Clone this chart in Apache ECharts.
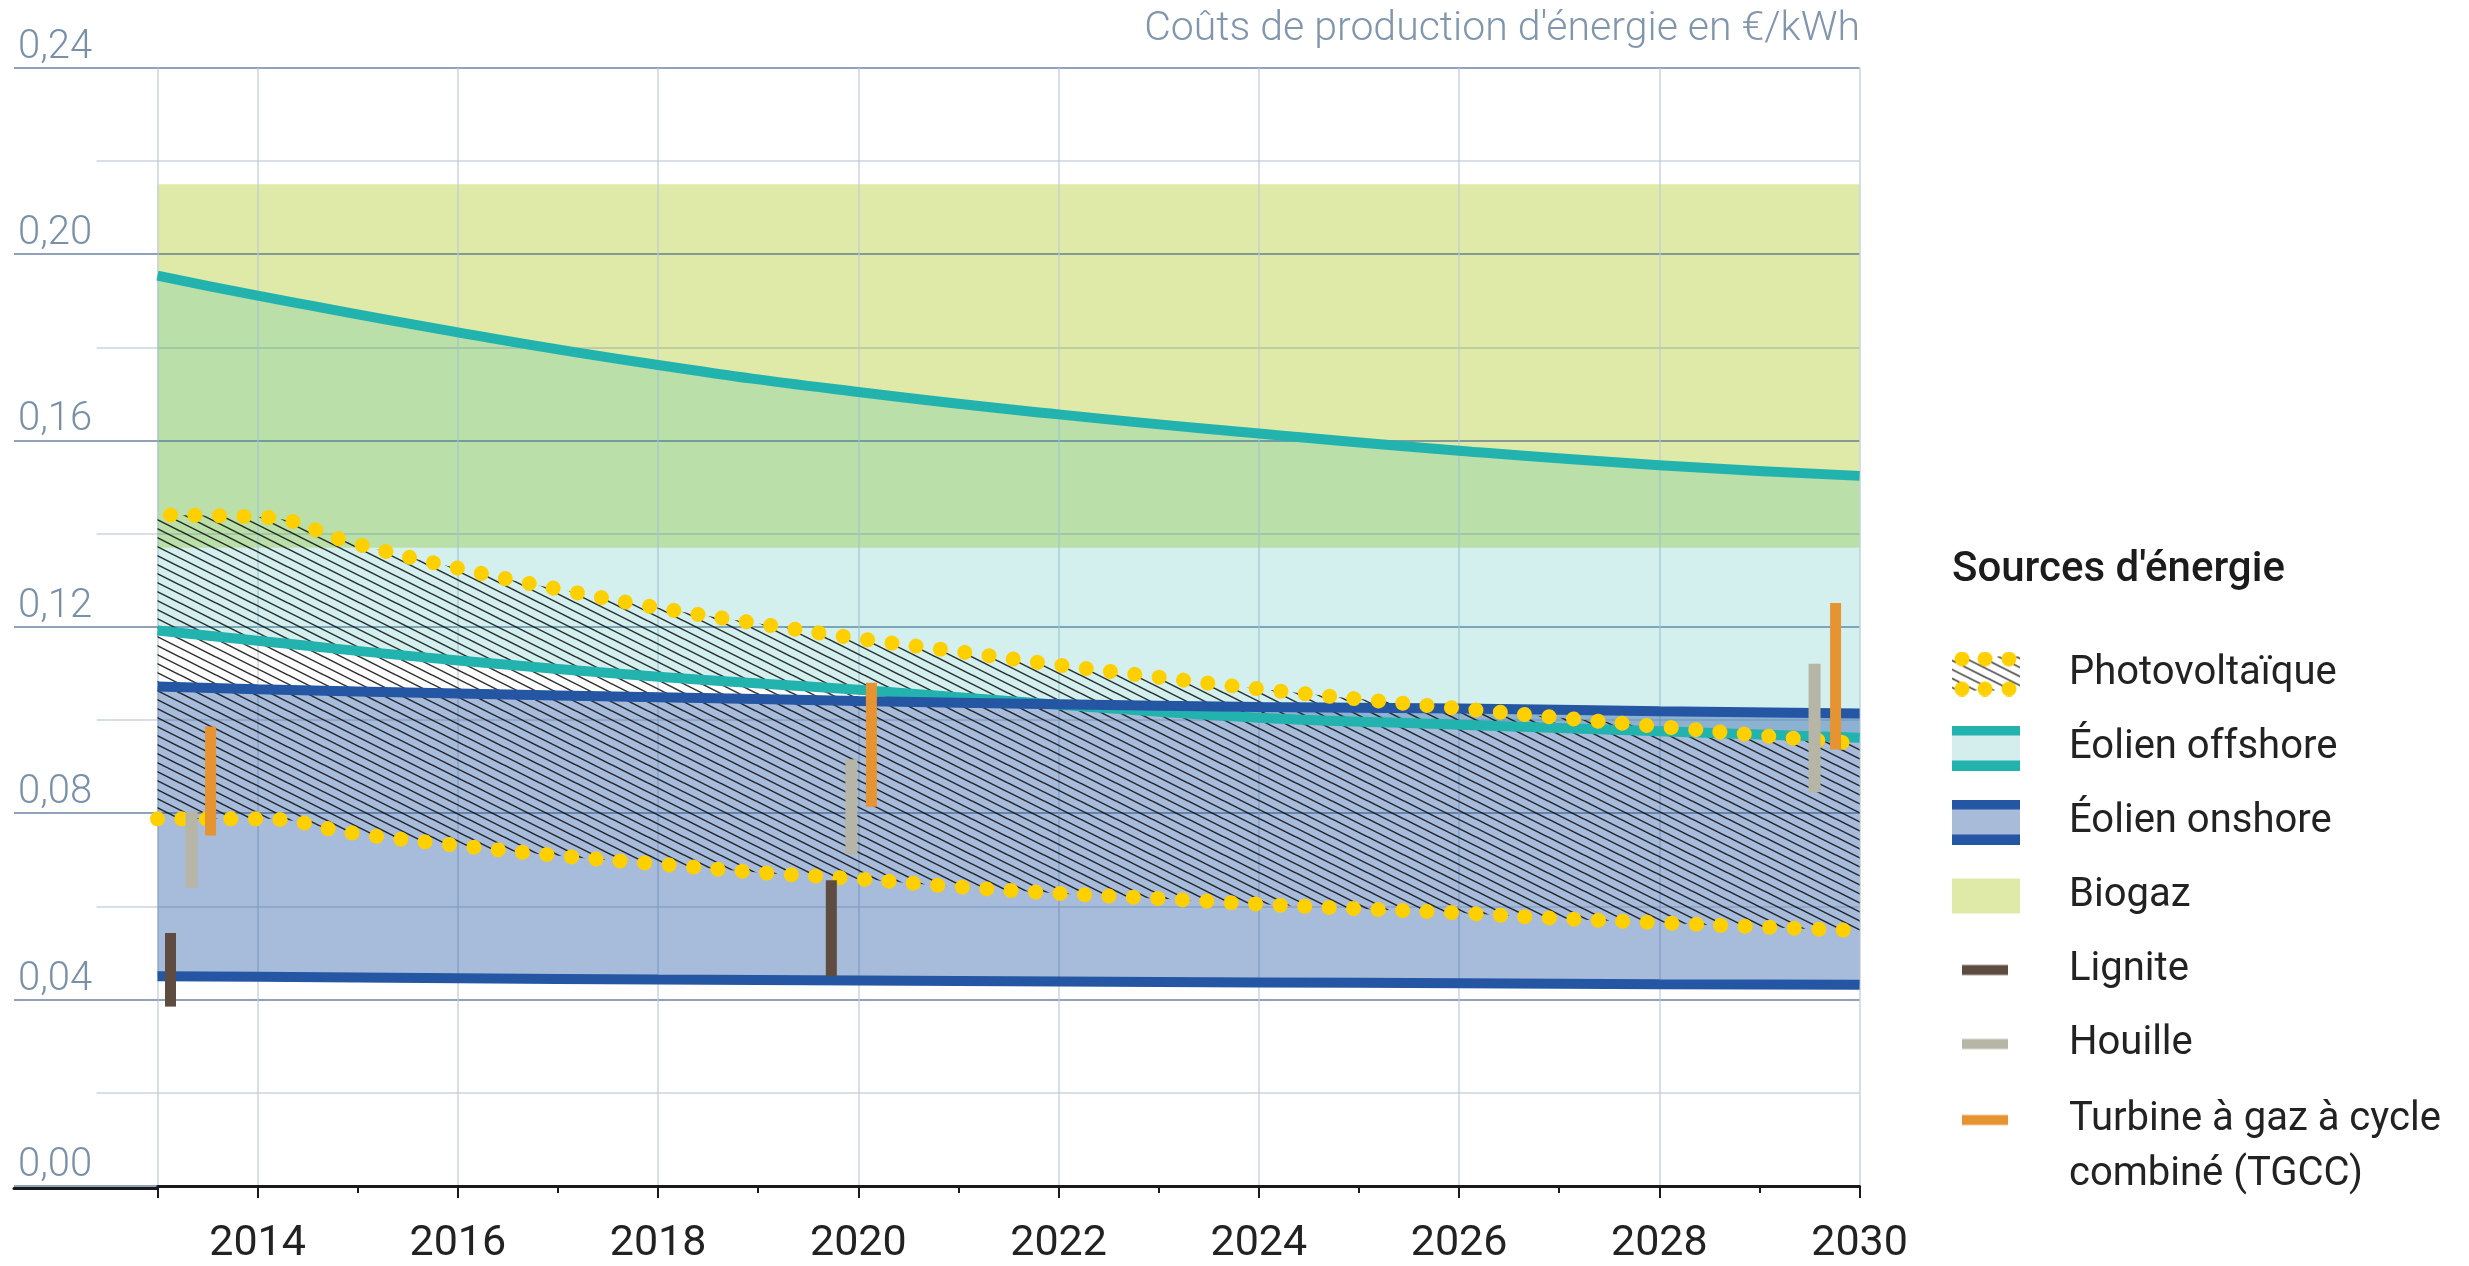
<!DOCTYPE html>
<html>
<head>
<meta charset="utf-8">
<title>Coûts de production d'énergie</title>
<script src="https://cdn.jsdelivr.net/npm/echarts@6/dist/echarts.min.js"></script>
<style>
  html, body { margin: 0; padding: 0; background: #fff; }
  #chart { width: 2469px; height: 1266px; }
</style>
</head>
<body>
<div id="chart"></div>
<script>
// ── Données (€/kWh) ──────────────────────────────────────────────────────
const AXIS_YEARS = ['2013','2014','2015','2016','2017','2018','2019','2020','2021',
                    '2022','2023','2024','2025','2026','2027','2028','2029','2030'];

const WIND_YEARS    = [2013, 2014, 2016, 2018, 2020, 2022, 2024, 2026, 2028, 2030];
const OFFSHORE_HIGH = [0.1954, 0.1911, 0.1832, 0.1762, 0.1704, 0.1656, 0.1615, 0.1578, 0.1547, 0.1524];
const OFFSHORE_LOW  = [0.1192, 0.1170, 0.1128, 0.1093, 0.1065, 0.1033, 0.1005, 0.0990, 0.0976, 0.0962];
const ONSHORE_HIGH  = [0.1072, 0.1066, 0.1057, 0.1049, 0.1041, 0.1034, 0.1028, 0.1025, 0.1019, 0.1014];
const ONSHORE_LOW   = [0.0450, 0.0449, 0.0446, 0.0443, 0.0441, 0.0439, 0.0437, 0.0435, 0.0433, 0.0432];

const PV_YEARS = [2013, 2014, 2015, 2016, 2017, 2018, 2019, 2020, 2021,
                  2022, 2023, 2024, 2025, 2026, 2027, 2028, 2029, 2030];
const PV_HIGH  = [0.1440, 0.1436, 0.1377, 0.1326, 0.1281, 0.1241, 0.1207, 0.1175, 0.1147,
                  0.1118, 0.1092, 0.1067, 0.1045, 0.1025, 0.1005, 0.0986, 0.0967, 0.0949];
const PV_LOW   = [0.0788, 0.0788, 0.0756, 0.0731, 0.0709, 0.0691, 0.0673, 0.0659, 0.0642,
                  0.0628, 0.0617, 0.0605, 0.0595, 0.0586, 0.0574, 0.0565, 0.0556, 0.0548];

// [début, fin, bas, haut]
const BIOGAZ = [[2013, 2030, 0.137, 0.215]];

// [année, bas, haut]
const LIGNITE = [[2013.13, 0.0385, 0.0543], [2019.73, 0.0450, 0.0656]];
const HOUILLE = [[2013.34, 0.0640, 0.0805], [2019.93, 0.0712, 0.0916], [2029.55, 0.0845, 0.1121]];
const TGCC    = [[2013.53, 0.0752, 0.0986], [2020.13, 0.0814, 0.1080], [2029.76, 0.0937, 0.1251]];

const NAMES = {
  pv: 'Photovoltaïque', off: 'Éolien offshore', on: 'Éolien onshore', bio: 'Biogaz',
  lig: 'Lignite', hou: 'Houille', tgcc: 'Turbine à gaz à cycle combiné (TGCC)',
};

// ── Couleurs ─────────────────────────────────────────────────────────────
const C = {
  biogaz: '#e0eaa8',
  teal: '#22b3ae', tealFill: 'rgba(34,179,174,0.2)', tealSwatch: '#d4eeee',
  blue: '#2456a3', blueFill: 'rgba(36,86,163,0.4)', blueSwatch: '#a8bbd9',
  pv: '#ffd000',
  lignite: '#5f4c40', houille: '#b7b5a5', tgcc: '#e69332',
  gridMajor: 'rgba(70,100,140,0.6)', gridMinor: 'rgba(70,100,140,0.28)',
  gridV: 'rgba(190,200,215,0.75)',
  label: '#7a90a8', text: '#222',
};

// ── Motif hachuré ────────────────────────────────────────────────────────
function makeHatch() {
  const c = document.createElement('canvas');
  c.width = 36; c.height = 18;
  const ctx = c.getContext('2d');
  ctx.strokeStyle = 'rgba(10,10,10,0.85)';
  ctx.lineWidth = 1.4;
  for (let k = -27; k <= 27; k += 9) {
    ctx.beginPath();
    ctx.moveTo(0, k);
    ctx.lineTo(36, k + 18);
    ctx.stroke();
  }
  return c;
}
const HATCH = makeHatch();

function icon(w, h, draw) {
  const c = document.createElement('canvas');
  c.width = w; c.height = h;
  draw(c.getContext('2d'), w, h);
  return 'image://' + c.toDataURL('image/png');
}

const ICONS = {
  pv: icon(68, 45, (ctx, w) => {
    ctx.fillStyle = ctx.createPattern(HATCH, 'repeat');
    ctx.fillRect(0, 5, w, 34);
    ctx.fillStyle = C.pv;
    [10, 33, 57].forEach(x => {
      [7.5, 37.5].forEach(y => { ctx.beginPath(); ctx.arc(x, y, 7.5, 0, Math.PI * 2); ctx.fill(); });
    });
  }),
  off: icon(68, 45, (ctx, w, h) => {
    ctx.fillStyle = C.tealSwatch; ctx.fillRect(0, 0, w, h);
    ctx.fillStyle = C.teal; ctx.fillRect(0, 0, w, 10); ctx.fillRect(0, h - 10, w, 10);
  }),
  on: icon(68, 45, (ctx, w, h) => {
    ctx.fillStyle = C.blueSwatch; ctx.fillRect(0, 0, w, h);
    ctx.fillStyle = C.blue; ctx.fillRect(0, 0, w, 10); ctx.fillRect(0, h - 10, w, 10);
  }),
  bio: icon(68, 45, (ctx, w) => { ctx.fillStyle = C.biogaz; ctx.fillRect(0, 5, w, 35); }),
  lig: icon(68, 45, (ctx) => { ctx.fillStyle = C.lignite; ctx.fillRect(10, 17.5, 46, 10); }),
  hou: icon(68, 45, (ctx) => { ctx.fillStyle = C.houille; ctx.fillRect(10, 17.5, 46, 10); }),
  tgcc: icon(68, 110, (ctx) => { ctx.fillStyle = C.tgcc; ctx.fillRect(10, 22.5, 46, 10); }),
};

// ── Helpers séries ───────────────────────────────────────────────────────
const pairs = (xs, ys) => xs.map((x, i) => [x, ys[i]]);

// Bandes empilées : la valeur est mise en 1re colonne pour que l'empilement
// porte sur l'axe y (sinon ECharts empile la 1re dimension numérique = x).
function band(name, stack, xs, lo, hi, fill) {
  const base = xs.map((x, i) => [lo[i], x]);
  const span = xs.map((x, i) => [+(hi[i] - lo[i]).toFixed(5), x]);
  const common = { name, type: 'line', stack, smooth: true, showSymbol: false, silent: true,
    encode: { x: 1, y: 0 }, lineStyle: { width: 0, opacity: 0 } };
  return [
    { ...common, data: base },
    { ...common, areaStyle: { color: fill, opacity: 1 }, data: span },
  ];
}

function edge(name, xs, ys, color) {
  return { name, type: 'line', smooth: true, showSymbol: false, silent: true,
    lineStyle: { width: 10, color }, data: pairs(xs, ys) };
}

function dots(name, xs, ys, offset) {
  return { name, type: 'line', smooth: true, showSymbol: false, silent: true, clip: false, z: 4,
    lineStyle: { width: 15, color: C.pv, type: [0.1, 24.4], cap: 'round', dashOffset: offset },
    data: pairs(xs, ys) };
}

function sticks(name, data, color, w) {
  return { name, type: 'custom', z: 5, silent: true, data,
    renderItem: (params, api) => {
      const top = api.coord([api.value(0), api.value(2)]);
      const bot = api.coord([api.value(0), api.value(1)]);
      return { type: 'rect', shape: { x: top[0] - w / 2, y: top[1], width: w, height: bot[1] - top[1] },
        style: { fill: color } };
    } };
}

const FONT = 'Roboto, "Noto Sans", sans-serif';
const isEven = (i) => Number(AXIS_YEARS[i]) % 2 === 0;

const chart = echarts.init(document.getElementById('chart'), null, { renderer: 'canvas' });

chart.setOption({
  animation: false,
  textStyle: { fontFamily: FONT },
  title: [
    { text: "Coûts de production d'énergie en €/kWh", right: 609, top: 9, padding: 0,
      textStyle: { fontFamily: FONT, fontSize: 41, fontWeight: 300, color: '#8196ad' } },
    { text: "Sources d'énergie", left: 1952, top: 549, padding: 0,
      textStyle: { fontFamily: FONT, fontSize: 42, fontWeight: 500, color: '#1c1c1c' } },
  ],
  legend: [
    { orient: 'vertical', left: 1952, top: 651.5, padding: 0, itemWidth: 68, itemHeight: 45, itemGap: 29,
      selectedMode: false,
      textStyle: { fontFamily: FONT, fontSize: 40, color: C.text, lineHeight: 45, padding: [0, 0, 0, 44] },
      data: [
        { name: NAMES.pv, icon: ICONS.pv }, { name: NAMES.off, icon: ICONS.off },
        { name: NAMES.on, icon: ICONS.on }, { name: NAMES.bio, icon: ICONS.bio },
        { name: NAMES.lig, icon: ICONS.lig }, { name: NAMES.hou, icon: ICONS.hou },
      ] },
    { orient: 'vertical', left: 1952, top: 1092.5, padding: 0, itemWidth: 68, itemHeight: 110,
      selectedMode: false,
      formatter: () => 'Turbine à gaz à cycle\ncombiné (TGCC)',
      textStyle: { fontFamily: FONT, fontSize: 40, color: C.text, lineHeight: 55, padding: [0, 0, 0, 44] },
      data: [{ name: NAMES.tgcc, icon: ICONS.tgcc }] },
  ],
  grid: [
    { left: 157.5, right: 609.4, top: 67.7, bottom: 77.5 },
    { left: 14, width: 143.5, top: 67.7, bottom: 77.5 },
  ],
  xAxis: [
    { type: 'value', gridIndex: 0, min: 2013, max: 2030, show: false },
    { type: 'category', gridIndex: 0, data: AXIS_YEARS, boundaryGap: false, position: 'bottom', z: 3,
      axisLine: { lineStyle: { color: '#1a1a1a', width: 3 } },
      axisTick: { length: 12, lineStyle: { color: '#1a1a1a', width: 2 },
        interval: (i) => i === 0 || isEven(i) },
      axisLabel: { interval: (i) => isEven(i), margin: 37, fontSize: 43, color: C.text, fontFamily: FONT },
      splitLine: { show: true, interval: (i) => i === 0 || isEven(i),
        lineStyle: { color: C.gridV, width: 1.6 } } },
    { type: 'category', gridIndex: 0, data: AXIS_YEARS, boundaryGap: false, position: 'bottom', z: 3,
      axisLine: { show: false }, axisLabel: { show: false }, splitLine: { show: false },
      axisTick: { length: 7, lineStyle: { color: '#1a1a1a', width: 2 },
        interval: (i) => i !== 0 && !isEven(i) } },
    { type: 'value', gridIndex: 1, min: 0, max: 1, z: 3,
      axisLine: { lineStyle: { color: '#1a1a1a', width: 3 } },
      axisTick: { show: false }, axisLabel: { show: false }, splitLine: { show: false } },
  ],
  yAxis: [
    { type: 'value', gridIndex: 0, min: 0, max: 0.24, interval: 0.04, z: 3,
      axisLine: { show: false },
      axisTick: { show: true, length: 143.5, lineStyle: { color: C.gridMajor, width: 2 } },
      minorTick: { show: true, splitNumber: 2, length: 61, lineStyle: { color: C.gridMinor, width: 1.6 } },
      splitLine: { lineStyle: { color: C.gridMajor, width: 2 } },
      minorSplitLine: { show: true, lineStyle: { color: C.gridMinor, width: 1.6 } },
      axisLabel: { align: 'left', verticalAlign: 'bottom', margin: 139.5, fontSize: 40, fontWeight: 300,
        color: C.label, fontFamily: FONT, formatter: (v) => v.toFixed(2).replace('.', ',') } },
    { type: 'value', gridIndex: 1, min: 0, max: 1, show: false },
  ],
  series: [
    { name: NAMES.bio, type: 'custom', silent: true, data: BIOGAZ,
      renderItem: (params, api) => {
        const a = api.coord([api.value(0), api.value(3)]);
        const b = api.coord([api.value(1), api.value(2)]);
        return { type: 'rect', shape: { x: a[0], y: a[1], width: b[0] - a[0], height: b[1] - a[1] },
          style: { fill: C.biogaz } };
      } },
    ...band(NAMES.off, 'off', WIND_YEARS, OFFSHORE_LOW, OFFSHORE_HIGH, C.tealFill),
    edge(NAMES.off, WIND_YEARS, OFFSHORE_HIGH, C.teal),
    edge(NAMES.off, WIND_YEARS, OFFSHORE_LOW, C.teal),
    ...band(NAMES.on, 'on', WIND_YEARS, ONSHORE_LOW, ONSHORE_HIGH, C.blueFill),
    edge(NAMES.on, WIND_YEARS, ONSHORE_HIGH, C.blue),
    edge(NAMES.on, WIND_YEARS, ONSHORE_LOW, C.blue),
    ...band(NAMES.pv, 'pv', PV_YEARS, PV_LOW, PV_HIGH, { image: HATCH, repeat: 'repeat' }),
    dots(NAMES.pv, PV_YEARS, PV_HIGH, 11.5),
    dots(NAMES.pv, PV_YEARS, PV_LOW, 0),
    sticks(NAMES.lig, LIGNITE, C.lignite, 11),
    sticks(NAMES.hou, HOUILLE, C.houille, 12),
    sticks(NAMES.tgcc, TGCC, C.tgcc, 11),
  ],
});
</script>
</body>
</html>
